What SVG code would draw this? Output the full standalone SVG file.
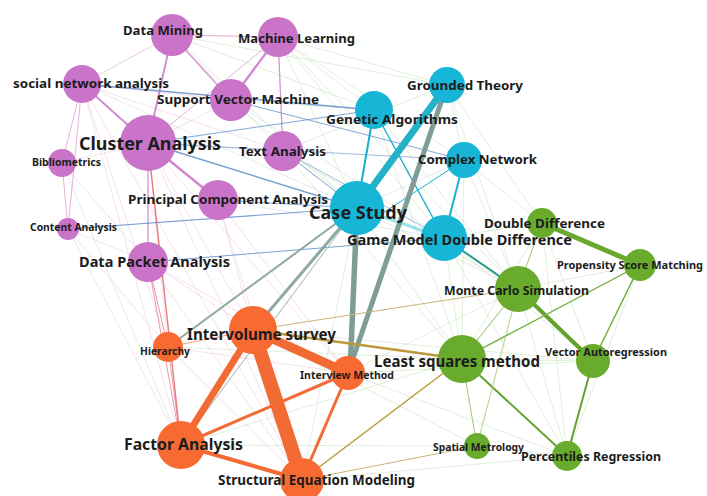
<svg xmlns="http://www.w3.org/2000/svg" width="707" height="496" viewBox="0 0 707 496">
<style>
.bg{fill:#ffffff}
.e{fill:none;stroke-linecap:round}
.ep{stroke-opacity:0.75}
.f{fill:none;stroke-width:0.8;stroke-opacity:0.45}
.fp{stroke:#e6a7cb}
.fg{stroke:#a8d29a}
.fy{stroke:#b8c6c1}
.fb{stroke:#a9c8e8}
.p{fill:#c973c9}
.c{fill:#17b6d7}
.g{fill:#69ab2d}
.o{fill:#f76b33}
text{font-family:"Noto Sans","DejaVu Sans",sans-serif;font-weight:700;fill:#1c1c1c}
</style>
<rect class="bg" x="0" y="0" width="707" height="496"/>
<g id="connectors">
<g class="f">
<line class="fg" x1="172" y1="35" x2="283" y2="151"/>
<line class="fg" x1="172" y1="35" x2="374" y2="110"/>
<line class="fg" x1="172" y1="35" x2="357" y2="208"/>
<line class="fg" x1="172" y1="35" x2="447" y2="85"/>
<line class="fg" x1="278" y1="37" x2="374" y2="110"/>
<line class="fg" x1="278" y1="37" x2="447" y2="85"/>
<line class="fg" x1="278" y1="37" x2="357" y2="208"/>
<line class="fg" x1="278" y1="37" x2="464" y2="160"/>
<line class="fg" x1="278" y1="37" x2="444" y2="238"/>
<line class="fg" x1="278" y1="37" x2="518" y2="289"/>
<line class="fg" x1="231" y1="100" x2="374" y2="110"/>
<line class="fg" x1="231" y1="100" x2="357" y2="208"/>
<line class="fg" x1="231" y1="100" x2="444" y2="238"/>
<line class="fp" x1="82" y1="84" x2="283" y2="151"/>
<line class="fy" x1="82" y1="84" x2="357" y2="208"/>
<line class="fp" x1="82" y1="84" x2="231" y2="100"/>
<line class="fp" x1="82" y1="84" x2="181" y2="445"/>
<line class="fp" x1="82" y1="84" x2="168" y2="347"/>
<line class="fp" x1="82" y1="84" x2="302" y2="480"/>
<line class="fp" x1="148" y1="143" x2="283" y2="151"/>
<line class="fp" x1="148" y1="143" x2="231" y2="100"/>
<line class="fp" x1="148" y1="143" x2="253" y2="330"/>
<line class="fp" x1="148" y1="143" x2="168" y2="347"/>
<line class="fp" x1="148" y1="143" x2="348" y2="373"/>
<line class="fp" x1="148" y1="143" x2="302" y2="480"/>
<line class="fp" x1="62" y1="163" x2="148" y2="143"/>
<line class="fp" x1="62" y1="163" x2="148" y2="262"/>
<line class="fy" x1="62" y1="163" x2="181" y2="445"/>
<line class="fy" x1="68" y1="229" x2="181" y2="445"/>
<line class="fp" x1="68" y1="229" x2="168" y2="347"/>
<line class="fp" x1="68" y1="229" x2="148" y2="262"/>
<line class="fp" x1="218" y1="200" x2="253" y2="330"/>
<line class="fp" x1="218" y1="200" x2="348" y2="373"/>
<line class="fp" x1="218" y1="200" x2="302" y2="480"/>
<line class="fb" x1="218" y1="200" x2="444" y2="238"/>
<line class="fp" x1="148" y1="262" x2="253" y2="330"/>
<line class="fp" x1="148" y1="262" x2="302" y2="480"/>
<line class="fp" x1="148" y1="262" x2="348" y2="373"/>
<line class="fg" x1="283" y1="151" x2="447" y2="85"/>
<line class="fg" x1="283" y1="151" x2="518" y2="289"/>
<line class="fg" x1="283" y1="151" x2="462" y2="359"/>
<line class="fg" x1="374" y1="110" x2="518" y2="289"/>
<line class="fg" x1="374" y1="110" x2="462" y2="359"/>
<line class="fg" x1="464" y1="160" x2="518" y2="289"/>
<line class="fg" x1="464" y1="160" x2="542" y2="223"/>
<line class="fg" x1="464" y1="160" x2="462" y2="359"/>
<line class="fg" x1="447" y1="85" x2="542" y2="223"/>
<line class="fg" x1="447" y1="85" x2="518" y2="289"/>
<line class="fg" x1="444" y1="238" x2="462" y2="359"/>
<line class="fg" x1="444" y1="238" x2="593" y2="361"/>
<line class="fg" x1="444" y1="238" x2="567" y2="456"/>
<line class="fg" x1="357" y1="208" x2="462" y2="359"/>
<line class="fg" x1="357" y1="208" x2="518" y2="289"/>
<line class="fy" x1="357" y1="208" x2="302" y2="480"/>
<line class="fy" x1="357" y1="208" x2="181" y2="445"/>
<line class="fg" x1="253" y1="330" x2="593" y2="361"/>
<line class="fg" x1="253" y1="330" x2="477" y2="446"/>
<line class="fg" x1="348" y1="373" x2="567" y2="456"/>
<line class="fg" x1="348" y1="373" x2="518" y2="289"/>
<line class="fg" x1="181" y1="445" x2="462" y2="359"/>
<line class="fg" x1="181" y1="445" x2="477" y2="446"/>
<line class="fp" x1="168" y1="347" x2="348" y2="373"/>
<line class="fp" x1="168" y1="347" x2="302" y2="480"/>
<line class="fg" x1="168" y1="347" x2="462" y2="359"/>
<line class="fg" x1="302" y1="480" x2="567" y2="456"/>
<line class="fg" x1="542" y1="223" x2="462" y2="359"/>
<line class="fg" x1="542" y1="223" x2="593" y2="361"/>
<line class="fg" x1="518" y1="289" x2="477" y2="446"/>
<line class="fg" x1="477" y1="446" x2="567" y2="456"/>
<line class="fg" x1="462" y1="359" x2="593" y2="361"/>
<line class="fg" x1="640" y1="265" x2="518" y2="289"/>
<line class="fg" x1="640" y1="265" x2="567" y2="456"/>
<line class="fg" x1="542" y1="223" x2="567" y2="456"/>
<line class="fg" x1="348" y1="373" x2="593" y2="361"/>
<line class="fg" x1="518" y1="289" x2="567" y2="456"/>
<line class="fg" x1="444" y1="238" x2="542" y2="223"/>
<line class="fb" x1="464" y1="160" x2="357" y2="208"/>
<line class="fb" x1="447" y1="85" x2="464" y2="160"/>
</g>
<g class="e ep">
<line x1="172" y1="35" x2="278" y2="37" stroke="#e08ac0" stroke-width="1"/>
<line x1="172" y1="35" x2="82" y2="84" stroke="#e6a3cf" stroke-width="0.8"/>
<line x1="172" y1="35" x2="148" y2="143" stroke="#c15fbe" stroke-width="1.8"/>
<line x1="172" y1="35" x2="231" y2="100" stroke="#cc6fc5" stroke-width="1.3"/>
<line x1="278" y1="37" x2="231" y2="100" stroke="#c15fbe" stroke-width="2.3"/>
<line x1="278" y1="37" x2="283" y2="151" stroke="#c86ec6" stroke-width="1.3"/>
<line x1="278" y1="37" x2="148" y2="143" stroke="#d68fd1" stroke-width="0.9"/>
<line x1="82" y1="84" x2="148" y2="143" stroke="#c15fbe" stroke-width="1.8"/>
<line x1="82" y1="84" x2="62" y2="163" stroke="#df8bc8" stroke-width="0.9"/>
<line x1="82" y1="84" x2="68" y2="229" stroke="#df8bc8" stroke-width="0.9"/>
<line x1="82" y1="84" x2="374" y2="110" stroke="#4c7fc4" stroke-width="1.4"/>
<line x1="148" y1="143" x2="218" y2="200" stroke="#c15fbe" stroke-width="2.3"/>
<line x1="148" y1="143" x2="148" y2="262" stroke="#c86ec6" stroke-width="1.3"/>
<line x1="148" y1="143" x2="181" y2="445" stroke="#e0504f" stroke-width="1.4"/>
<line x1="148" y1="143" x2="357" y2="208" stroke="#4c7fc4" stroke-width="1.5"/>
<line x1="148" y1="143" x2="374" y2="110" stroke="#5b8ccc" stroke-width="1"/>
<line x1="148" y1="143" x2="464" y2="160" stroke="#6b98d0" stroke-width="0.9"/>
<line x1="283" y1="151" x2="357" y2="208" stroke="#4c7fc4" stroke-width="1"/>
<line x1="283" y1="151" x2="444" y2="238" stroke="#6b98d0" stroke-width="0.9"/>
<line x1="62" y1="163" x2="68" y2="229" stroke="#df8bc8" stroke-width="0.9"/>
<line x1="68" y1="229" x2="357" y2="208" stroke="#4c7fc4" stroke-width="1.2"/>
<line x1="148" y1="262" x2="444" y2="238" stroke="#4c7fc4" stroke-width="1"/>
<line x1="218" y1="200" x2="357" y2="208" stroke="#5b8ccc" stroke-width="1"/>
<line x1="231" y1="100" x2="464" y2="160" stroke="#5b8ccc" stroke-width="1"/>
<line x1="148" y1="262" x2="181" y2="445" stroke="#e06a80" stroke-width="0.9"/>
<line x1="148" y1="262" x2="168" y2="347" stroke="#e06a80" stroke-width="0.9"/>
</g>
<g class="e">
<line x1="357" y1="208" x2="444" y2="238" stroke="#5fd0e0" stroke-width="3" stroke-opacity="0.6"/>
<line x1="357" y1="208" x2="374" y2="110" stroke="#1aaecf" stroke-width="2"/>
<line x1="374" y1="110" x2="444" y2="238" stroke="#1aaecf" stroke-width="1.4"/>
<line x1="464" y1="160" x2="444" y2="238" stroke="#1aaecf" stroke-width="2"/>
<line x1="464" y1="160" x2="357" y2="230" stroke="#1aaecf" stroke-width="1"/>
<line x1="444" y1="238" x2="518" y2="289" stroke="#279e8c" stroke-width="2"/>
<line x1="357" y1="208" x2="447" y2="85" stroke="#23b2c8" stroke-width="7"/>
<line x1="447" y1="85" x2="348" y2="373" stroke="#7f9c95" stroke-width="5"/>
<line x1="357" y1="208" x2="350" y2="373" stroke="#7f9c95" stroke-width="5.5"/>
<line x1="357" y1="208" x2="253" y2="330" stroke="#8fa9a3" stroke-width="3"/>
<line x1="357" y1="208" x2="168" y2="347" stroke="#8fa9a3" stroke-width="2"/>
<line x1="357" y1="208" x2="181" y2="445" stroke="#a7bab5" stroke-width="1"/>
</g>
<g class="e">
<line x1="542" y1="223" x2="640" y2="265" stroke="#6aa832" stroke-width="5"/>
<line x1="518" y1="289" x2="593" y2="361" stroke="#62a22c" stroke-width="4"/>
<line x1="593" y1="361" x2="567" y2="456" stroke="#62a22c" stroke-width="2"/>
<line x1="640" y1="265" x2="593" y2="361" stroke="#72b03a" stroke-width="1.5"/>
<line x1="462" y1="359" x2="567" y2="456" stroke="#62a22c" stroke-width="2"/>
<line x1="640" y1="265" x2="462" y2="359" stroke="#72b03a" stroke-width="1.4"/>
<line x1="542" y1="223" x2="518" y2="289" stroke="#9bc878" stroke-width="1"/>
<line x1="518" y1="289" x2="462" y2="359" stroke="#8cc060" stroke-width="1"/>
<line x1="462" y1="359" x2="477" y2="446" stroke="#9bc878" stroke-width="1"/>
<line x1="518" y1="289" x2="477" y2="446" stroke="#a9cd8a" stroke-width="0.8"/>
</g>
<g class="e">
<line x1="253" y1="330" x2="462" y2="359" stroke="#b9993a" stroke-width="2.5"/>
<line x1="462" y1="359" x2="302" y2="480" stroke="#b9993a" stroke-width="1.5"/>
<line x1="253" y1="330" x2="518" y2="289" stroke="#cdb27a" stroke-width="1"/>
<line x1="477" y1="446" x2="302" y2="480" stroke="#cdb27a" stroke-width="1"/>
</g>
<g class="e">
<line x1="168" y1="347" x2="253" y2="330" stroke="#f5a27c" stroke-width="1"/>
<line x1="168" y1="347" x2="181" y2="445" stroke="#e06a80" stroke-width="0.9" stroke-opacity="0.75"/>
<line x1="181" y1="445" x2="302" y2="480" stroke="#f26b35" stroke-width="4"/>
<line x1="181" y1="445" x2="348" y2="373" stroke="#f26b35" stroke-width="3"/>
<line x1="348" y1="373" x2="302" y2="480" stroke="#f26b35" stroke-width="3"/>
<line x1="253" y1="330" x2="181" y2="445" stroke="#f26b35" stroke-width="7"/>
<line x1="253" y1="330" x2="348" y2="373" stroke="#f26b35" stroke-width="9"/>
<line x1="253" y1="330" x2="302" y2="480" stroke="#f26b35" stroke-width="14"/>
</g>
</g>
<g id="n-data-mining"><circle class="p" cx="172" cy="35" r="21"/><text x="123" y="35" font-size="13" textLength="80" lengthAdjust="spacingAndGlyphs">Data Mining</text></g>
<g id="n-machine-learning"><circle class="p" cx="278" cy="37" r="20"/><text x="238" y="43" font-size="13" textLength="117" lengthAdjust="spacingAndGlyphs">Machine Learning</text></g>
<g id="n-social-network-analysis"><circle class="p" cx="82" cy="84" r="19"/><text x="13" y="88" font-size="13" textLength="156" lengthAdjust="spacingAndGlyphs">social network analysis</text></g>
<g id="n-support-vector-machine"><circle class="p" cx="231" cy="100" r="21"/><text x="157" y="104" font-size="13" textLength="162" lengthAdjust="spacingAndGlyphs">Support Vector Machine</text></g>
<g id="n-cluster-analysis"><circle class="p" cx="148" cy="143" r="28"/><text x="79" y="150" font-size="18" textLength="142" lengthAdjust="spacingAndGlyphs">Cluster Analysis</text></g>
<g id="n-text-analysis"><circle class="p" cx="283" cy="151" r="20"/><text x="239" y="156" font-size="13" textLength="87" lengthAdjust="spacingAndGlyphs">Text Analysis</text></g>
<g id="n-bibliometrics"><circle class="p" cx="62" cy="163" r="14"/><text x="32" y="166" font-size="10" textLength="69" lengthAdjust="spacingAndGlyphs">Bibliometrics</text></g>
<g id="n-principal-component-analysis"><circle class="p" cx="218" cy="200" r="20"/><text x="128" y="204" font-size="13" textLength="200" lengthAdjust="spacingAndGlyphs">Principal Component Analysis</text></g>
<g id="n-content-analysis"><circle class="p" cx="68" cy="229" r="11"/><text x="30" y="231" font-size="10" textLength="87" lengthAdjust="spacingAndGlyphs">Content Analysis</text></g>
<g id="n-data-packet-analysis"><circle class="p" cx="148" cy="262" r="20"/><text x="79" y="267" font-size="13.5" textLength="151" lengthAdjust="spacingAndGlyphs">Data Packet Analysis</text></g>
<g id="n-grounded-theory"><circle class="c" cx="447" cy="85" r="18"/><text x="407" y="90" font-size="13" textLength="116" lengthAdjust="spacingAndGlyphs">Grounded Theory</text></g>
<g id="n-genetic-algorithms"><circle class="c" cx="374" cy="110" r="19"/><text x="326" y="124" font-size="13" textLength="132" lengthAdjust="spacingAndGlyphs">Genetic Algorithms</text></g>
<g id="n-complex-network"><circle class="c" cx="464" cy="160" r="18"/><text x="418" y="164" font-size="13" textLength="119" lengthAdjust="spacingAndGlyphs">Complex Network</text></g>
<g id="n-case-study"><circle class="c" cx="357" cy="208" r="27"/><text x="309" y="219" font-size="18" textLength="98" lengthAdjust="spacingAndGlyphs">Case Study</text></g>
<g id="n-game-model-double-difference"><circle class="c" cx="444" cy="238" r="23"/><text x="347" y="245" font-size="14" textLength="225" lengthAdjust="spacingAndGlyphs">Game Model Double Difference</text></g>
<g id="n-double-difference"><circle class="g" cx="542" cy="223" r="15"/><text x="484" y="228" font-size="13" textLength="121" lengthAdjust="spacingAndGlyphs">Double Difference</text></g>
<g id="n-propensity-score-matching"><circle class="g" cx="640" cy="265" r="16"/><text x="557" y="269" font-size="10.5" textLength="146" lengthAdjust="spacingAndGlyphs">Propensity Score Matching</text></g>
<g id="n-monte-carlo-simulation"><circle class="g" cx="518" cy="289" r="23"/><text x="444" y="295" font-size="12.5" textLength="145" lengthAdjust="spacingAndGlyphs">Monte Carlo Simulation</text></g>
<g id="n-least-squares-method"><circle class="g" cx="462" cy="359" r="24"/><text x="374" y="367" font-size="16" textLength="166" lengthAdjust="spacingAndGlyphs">Least squares method</text></g>
<g id="n-vector-autoregression"><circle class="g" cx="593" cy="361" r="17"/><text x="545" y="356" font-size="11" textLength="122" lengthAdjust="spacingAndGlyphs">Vector Autoregression</text></g>
<g id="n-spatial-metrology"><circle class="g" cx="477" cy="446" r="13"/><text x="433" y="451" font-size="10.5" textLength="91" lengthAdjust="spacingAndGlyphs">Spatial Metrology</text></g>
<g id="n-percentiles-regression"><circle class="g" cx="567" cy="456" r="15"/><text x="521" y="461" font-size="12.5" textLength="140" lengthAdjust="spacingAndGlyphs">Percentiles Regression</text></g>
<g id="n-intervolume-survey"><circle class="o" cx="253" cy="330" r="24"/><text x="187" y="340" font-size="16.5" textLength="149" lengthAdjust="spacingAndGlyphs">Intervolume survey</text></g>
<g id="n-hierarchy"><circle class="o" cx="168" cy="347" r="15"/><text x="140" y="355" font-size="10" textLength="50" lengthAdjust="spacingAndGlyphs">Hierarchy</text></g>
<g id="n-interview-method"><circle class="o" cx="348" cy="373" r="17"/><text x="300" y="379" font-size="10.5" textLength="94" lengthAdjust="spacingAndGlyphs">Interview Method</text></g>
<g id="n-factor-analysis"><circle class="o" cx="181" cy="445" r="24"/><text x="124" y="450" font-size="16" textLength="119" lengthAdjust="spacingAndGlyphs">Factor Analysis</text></g>
<g id="n-structural-equation-modeling"><circle class="o" cx="302" cy="480" r="22"/><text x="218" y="485" font-size="13.5" textLength="197" lengthAdjust="spacingAndGlyphs">Structural Equation Modeling</text></g>
</svg>
